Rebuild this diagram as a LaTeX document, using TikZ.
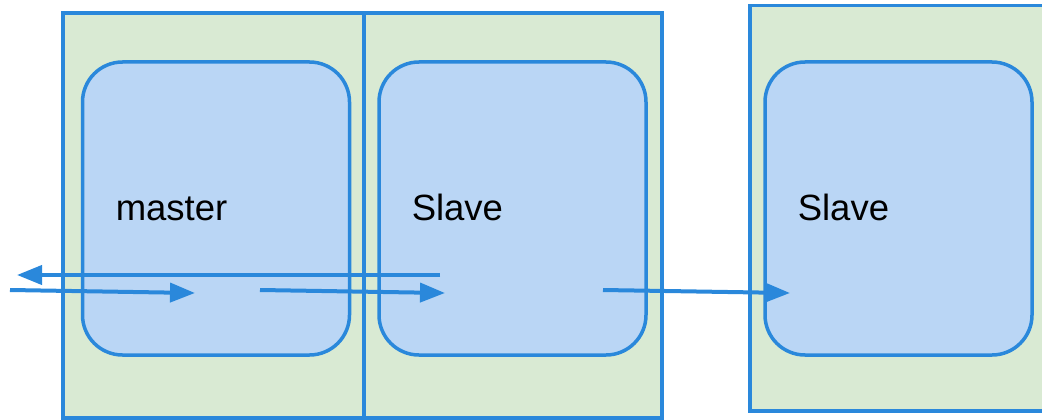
\documentclass[tikz,border=0pt]{standalone}
\usepackage{fontspec}
\setmainfont{Liberation Sans}
\usetikzlibrary{arrows.meta,positioning}
\definecolor{lineblue}{RGB}{42,136,219}
\definecolor{hostgreen}{RGB}{217,234,211}
\definecolor{procblue}{RGB}{186,214,245}

\begin{document}
\begin{tikzpicture} [x=1pt,y=-1pt,line width=3.5pt,
  host/.style={draw=lineblue,fill=hostgreen,rectangle,outer sep=0pt,minimum height=405pt},
  proc/.style={draw=lineblue,fill=procblue,rectangle,rounded corners=40pt,minimum width=267pt,minimum height=293pt},
  lbl/.style={inner sep=0pt,anchor=base west,font=\fontsize{36.5}{44}\selectfont},
  msg/.style={draw=lineblue,line width=4pt,-{Triangle[length=25pt,width=19pt]}}]

  \useasboundingbox (0,0) rectangle (1042,420);

  \node[host, minimum width=301pt] (h1) at (213.5,215.5) {};
  \node[host, minimum width=298pt] (h2) [right=0pt of h1] {};
  \node[host, minimum width=300pt] (h3) at (900,208.25) {};

  \node[proc] (p1) at (216,208.5) {};
  \node[proc] (p2) at (512.5,208.5) {};
  \node[proc] (p3) at (898.5,208.5) {};

  \node[lbl] (m) at (114,220) {master};
  \node[lbl] (s1) at (410,220) {Slave};
  \node[lbl] (s2) at (796,220) {Slave};

  \coordinate (back) at (440,275);
  \coordinate (out) at (17,275);
  \coordinate (in) at (10,290);
  \coordinate (min) at (195,293);
  \coordinate (mout) at (260,290);
  \coordinate (sin) at (445,293);
  \coordinate (sout) at (603,290);
  \coordinate (tin) at (790,293);

  \draw[msg] (back) -- (out);
  \draw[msg] (in) -- (min);
  \draw[msg] (mout) -- (sin);
  \draw[msg] (sout) -- (tin);

\end{tikzpicture}
\end{document}
